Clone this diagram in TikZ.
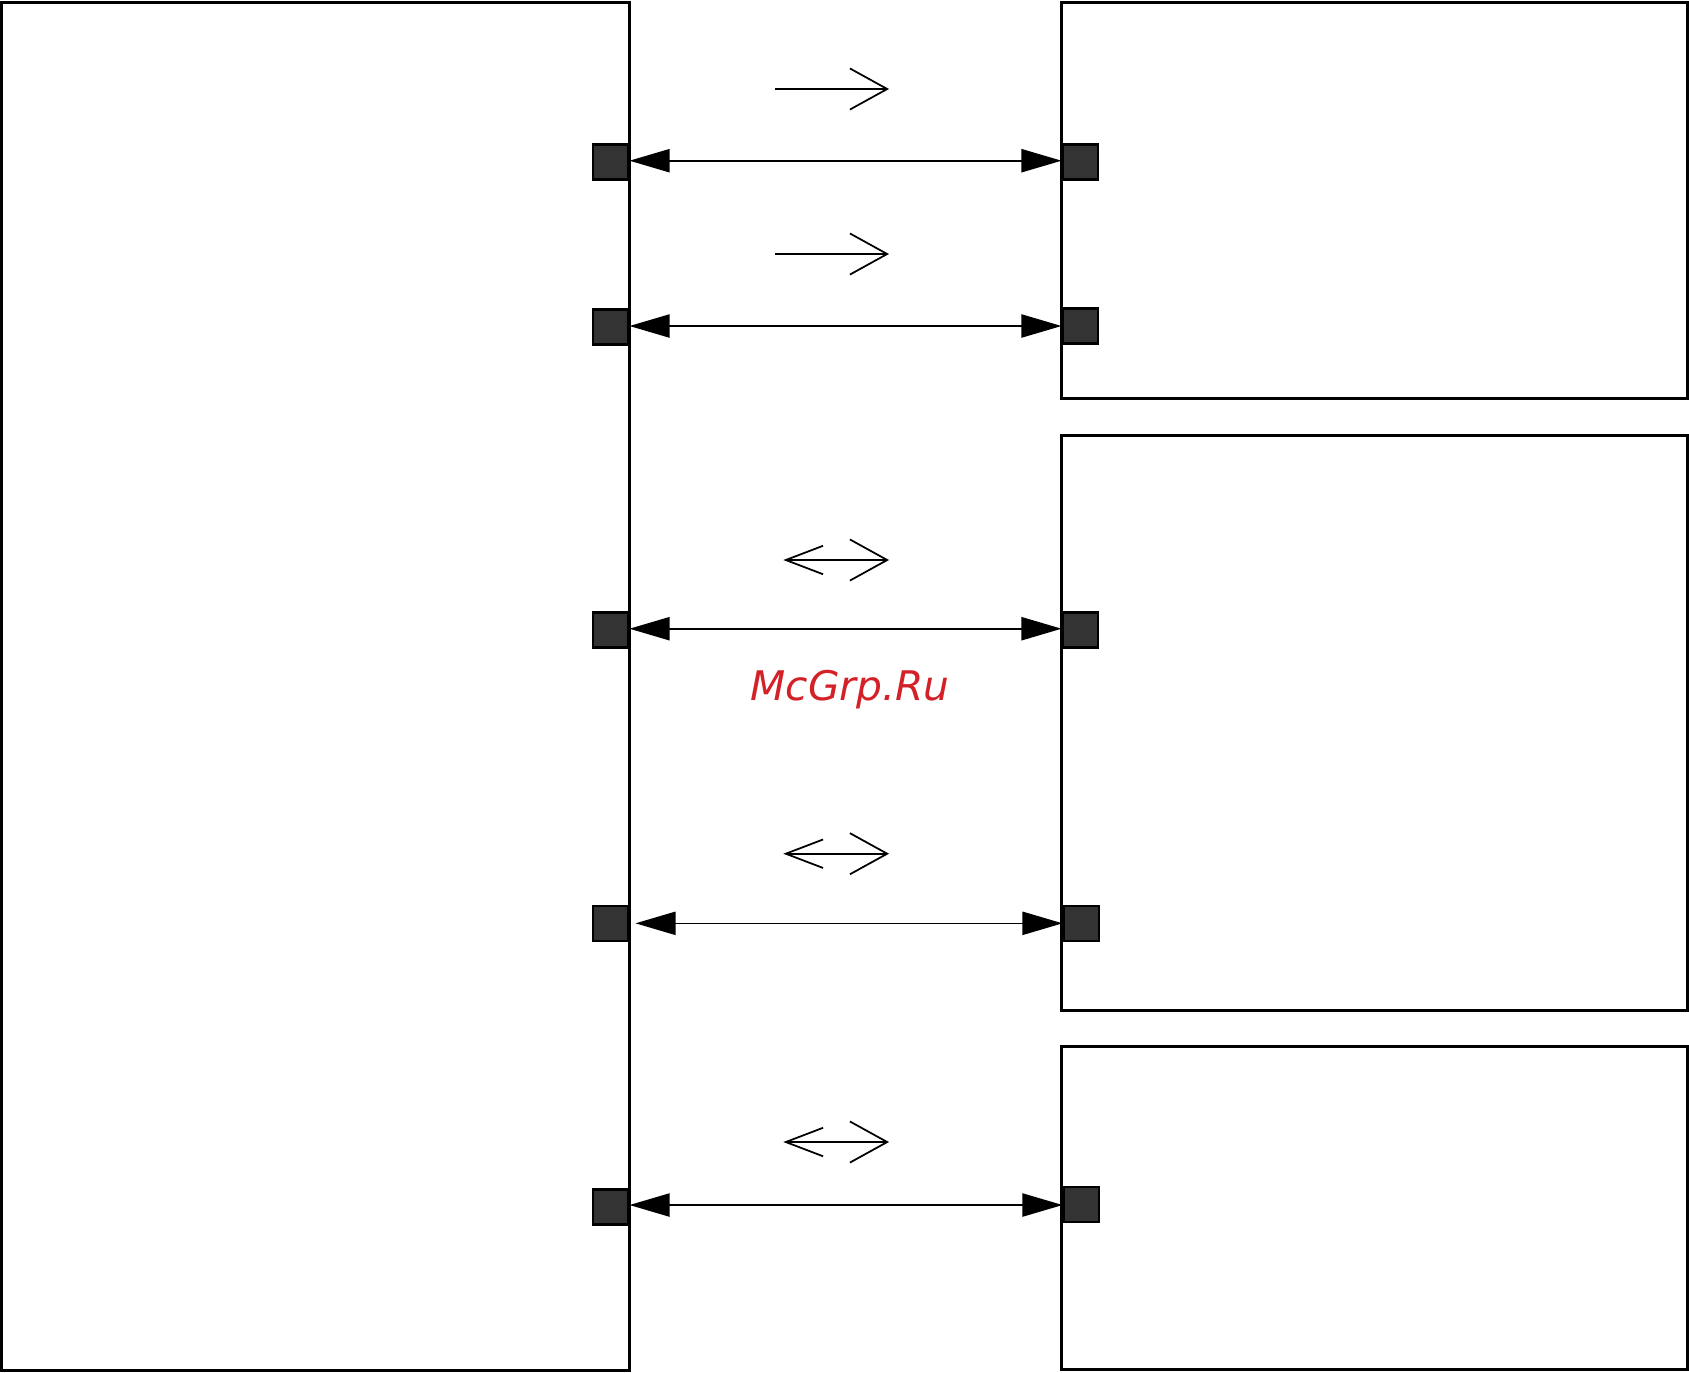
\documentclass[tikz,border=0pt]{standalone}
\usepackage{fontspec}
\usepackage{tikz}
\usetikzlibrary{arrows.meta, positioning}
\newfontfamily\wmfont{DejaVu Sans}
\definecolor{portgray}{HTML}{333333}
\definecolor{wmred}{HTML}{D42027}
\tikzset{
  block/.style={rectangle, draw=black, line width=0.85pt, inner sep=0pt, outer sep=0pt, anchor=north west, minimum width=6.257cm},
  port/.style={rectangle, draw=black, fill=portgray, line width=0.65pt, minimum size=0.35cm, inner sep=0pt},
  link/.style={{Triangle[length=11.4pt,width=6.6pt]}-{Triangle[length=11.4pt,width=6.6pt]}, line width=0.45pt},
  dir/.style={-{Straight Barb[length=10.6pt,width=11.7pt]}, line width=0.5pt},
  bidir/.style={{Straight Barb[length=10.6pt,width=8.1pt]}-{Straight Barb[length=10.6pt,width=11.7pt]}, line width=0.5pt},
  wm/.style={font=\wmfont\itshape\fontsize{11.6pt}{13pt}\selectfont, text=wmred, anchor=base},
}

\begin{document}
\begin{tikzpicture}[x=0.01cm, y=-0.01cm]
\useasboundingbox (0,0) rectangle (1689,1372);
\node[block, minimum width=6.28cm, minimum height=13.667cm] (main) at (1.5,2.5) {};
\node[block, minimum height=3.957cm] (top) at (1061.5,2.5) {};
\node[block, minimum height=5.745cm] (mid) at (1061.5,435.3) {};
\node[block, minimum height=3.225cm] (bot) at (1061.5,1046.7) {};
\node[port, anchor=east] (lp1) at (629.5,162) {};
\node[port, anchor=east] (lp2) at (629.5,327) {};
\node[port, anchor=east] (lp3) at (629.5,630) {};
\node[port, anchor=east] (lp4) at (629.5,923.3) {};
\node[port, anchor=east] (lp5) at (629.5,1207) {};
\node[port, anchor=west] (rp1) at (1061.5,162) {};
\node[port, anchor=west] (rp2) at (1061.5,326) {};
\node[port, anchor=west] (rp3) at (1061.5,630) {};
\node[port, anchor=west] (rp4) at (1062.5,923.3) {};
\node[port, anchor=west] (rp5) at (1062.5,1204.7) {};
\node[wm] (wm) at (850,700) {McGrp.Ru};
\draw[link] (lp1.east |- 0,160.7) -- (rp1.west |- 0,160.7);
\draw[link] (lp2.east |- 0,326) -- (rp2.west |- 0,326);
\draw[link] (lp3.east |- 0,628.7) -- (rp3.west |- 0,628.7);
\draw[link] ([xshift=0.06cm]lp4.east) -- (rp4.west);
\draw[link] (lp5.east |- 0,1205) -- (rp5.west |- 0,1205);
\draw[dir] (775,89) -- (889,89);
\draw[dir] (775,254) -- (889,254);
\draw[bidir] (783.3,560) -- (889,560);
\draw[bidir] (783.3,853.7) -- (889,853.7);
\draw[bidir] (783.3,1142) -- (889,1142);
\end{tikzpicture}
\end{document}
